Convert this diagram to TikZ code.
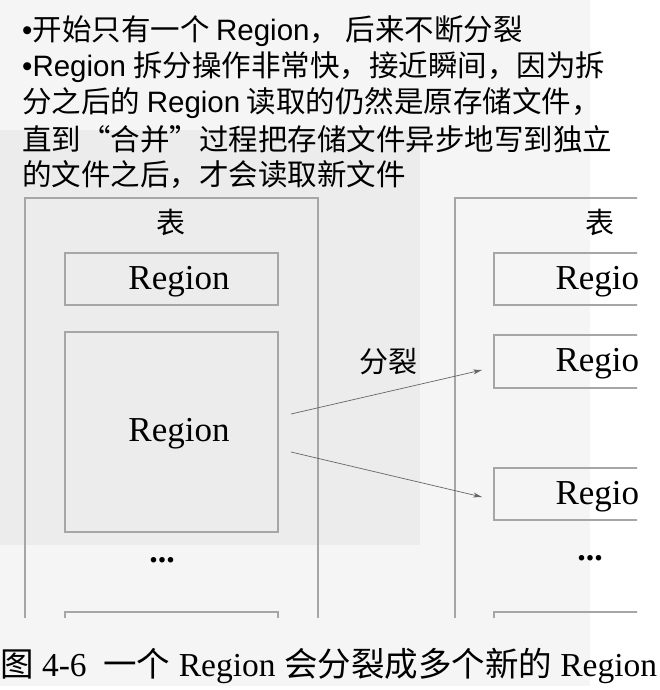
\documentclass[tikz,border=0pt]{standalone}
\usepackage{fontspec}
\usetikzlibrary{arrows.meta}
\setmainfont{Liberation Serif}
\newfontfamily\cjk{Noto Sans CJK SC}
\newfontfamily\ls{Liberation Sans}
\begin{document}
\begin{tikzpicture}[x=1pt,y=-1pt,
  bx/.style={draw=black!35,line width=1.2pt},
  rg/.style={font=\fontsize{35}{35}\selectfont},
  tl/.style={anchor=west,inner sep=0,font=\fontsize{29.5}{29.5}\selectfont},
  ar/.style={draw=black!60,line width=0.7pt,-{Stealth[length=9pt,width=5pt]}}]
\useasboundingbox (0,0) rectangle (659,690);
\fill[white] (0,0) rectangle (659,690);
\fill[black!4] (0,0) rectangle (590,686);
\fill[black!7.5] (0,130) rectangle (420,545);
% top text
\node[tl] (t1) at (22,31) {{\ls •}\cjk 开始只有一个 {\ls Region}， 后来不断分裂};
\node[tl] (t2) at (22,67) {{\ls •Region} \cjk 拆分操作非常快，接近瞬间，因为拆};
\node[tl] (t3) at (22,103) {\cjk 分之后的 {\ls Region} 读取的仍然是原存储文件，};
\node[tl] (t4) at (22,139) {\cjk 直到“合并”过程把存储文件异步地写到独立};
\node[tl] (t5) at (22,175) {\cjk 的文件之后，才会读取新文件};
% left table
\draw[bx] (25,618) -- (25,198) -- (318,198) -- (318,618);
\node[font=\cjk\fontsize{29}{29}\selectfont] (lt) at (171,222) {表};
\draw[bx] (65,253) rectangle (278,305);
\node[rg] (r1) at (179,282) {Region};
\draw[bx] (65,332) rectangle (278,532);
\node[rg] (r2) at (179,434) {Region};
\node[font=\fontsize{34}{34}\selectfont] (d1) at (162,560) {\textbf{...}};
\draw[bx] (65,618) -- (65,612) -- (278,612) -- (278,618);
% right table
\begin{scope}
\clip (440,190) rectangle (637,620);
\draw[bx] (455,618) -- (455,198) -- (700,198);
\draw[bx] (494,253) rectangle (700,305);
\node[rg,anchor=west] (s1) at (552,282) {Region};
\draw[bx] (494,335) rectangle (700,388);
\node[rg,anchor=west] (s2) at (552,364) {Region};
\draw[bx] (494,468) rectangle (700,520);
\node[rg,anchor=west] (s3) at (552,497) {Region};
\draw[bx] (494,618) -- (494,612) -- (700,612);
\end{scope}
\node[font=\cjk\fontsize{29}{29}\selectfont] (rt) at (600,222) {表};
\node[font=\fontsize{34}{34}\selectfont] (d2) at (590,558) {\textbf{...}};
\coordinate (a1) at (291,414);
\coordinate (a2) at (291,452);
\coordinate (e1) at (482,370);
\coordinate (e2) at (482,497);
\draw[ar] (a1) -- (e1);
\draw[ar] (a2) -- (e2);
\node[font=\cjk\fontsize{29}{29}\selectfont] (fl) at (388,362) {分裂};
% caption
\node[anchor=west,inner sep=0,font=\fontsize{33.5}{33.5}\selectfont] (cap) at (0,666) {{\cjk 图} 4-6\ \ {\cjk 一个} Region {\cjk 会分裂成多个新的} Region};
\end{tikzpicture}
\end{document}
